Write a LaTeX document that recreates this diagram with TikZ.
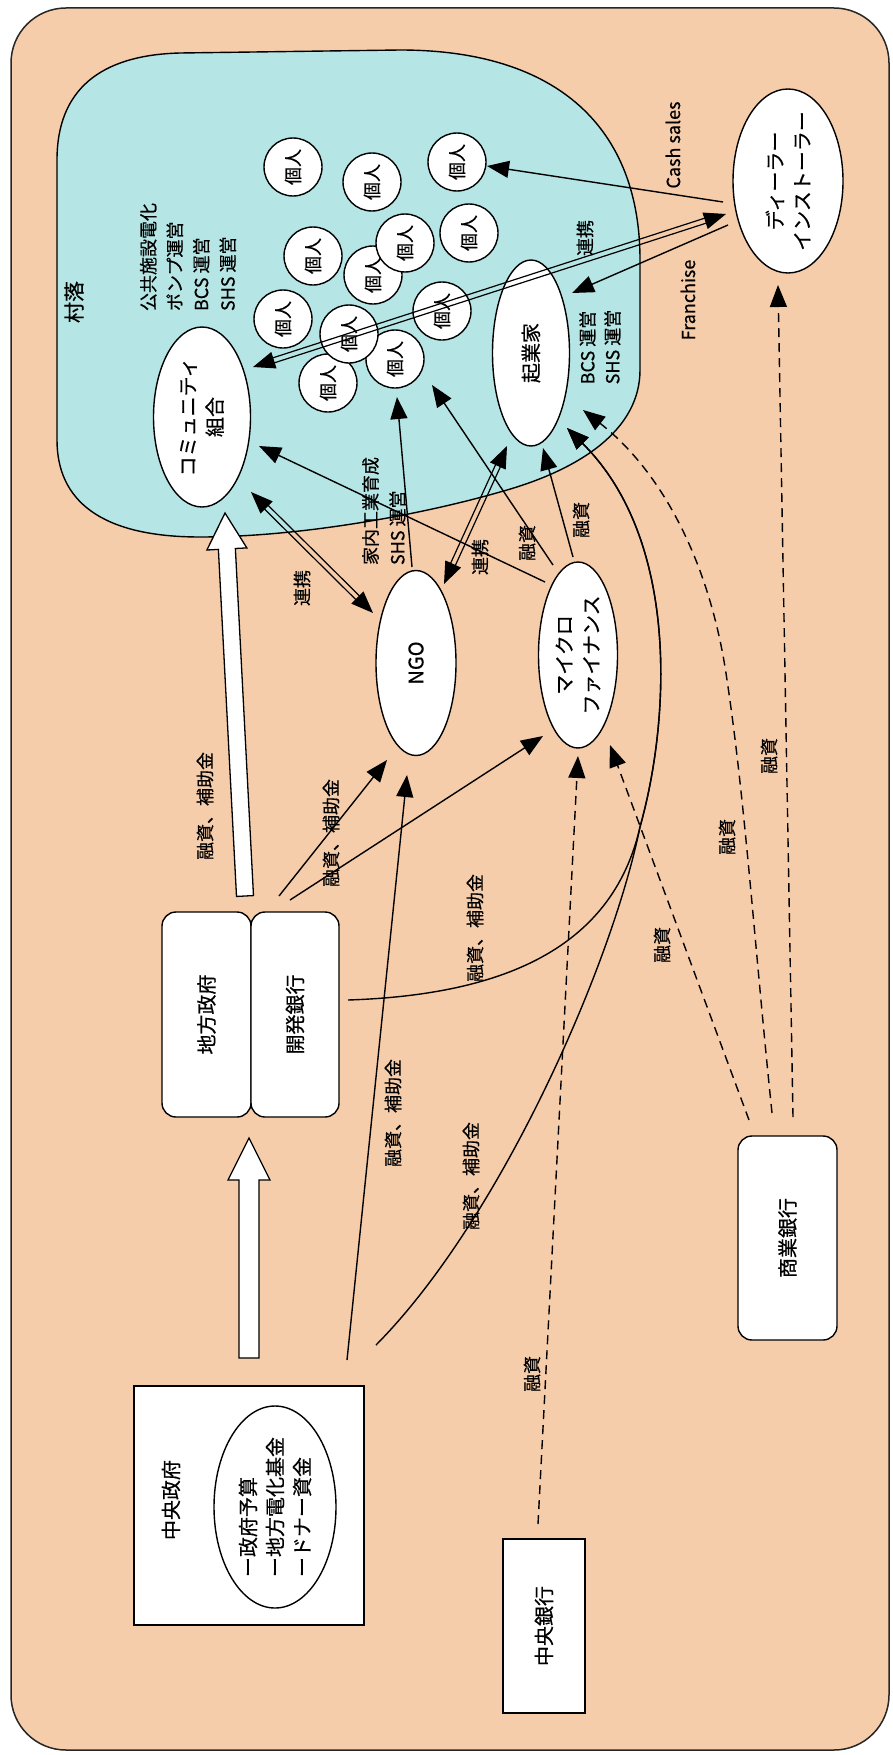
\documentclass[tikz,border=0pt]{standalone}
\usepackage{fontspec}
\setmainfont{Noto Sans CJK JP}[FakeBold=0.5]
\usetikzlibrary{shapes.geometric,arrows.meta,calc}
\definecolor{peach}{RGB}{246,205,170}
\definecolor{village}{RGB}{181,229,228}
\newcommand\linkpair[2]{%
  \draw[line width=1pt, line cap=butt, dash pattern=on 0pt off 3000pt,
        {Triangle[length=22pt,width=17pt]}-{Triangle[length=22pt,width=17pt]}] (#1) -- (#2);
  \draw[line width=1.2pt, shorten <=16pt, shorten >=16pt] ($(#1)!2.6pt!90:(#2)$) -- ($(#2)!2.6pt!-90:(#1)$);
  \draw[line width=1.2pt, shorten <=16pt, shorten >=16pt] ($(#1)!2.6pt!-90:(#2)$) -- ($(#2)!2.6pt!90:(#1)$);
}
\newcommand\hollowarrow[5]{%
  \coordinate (hh) at ($(#2)!#5!(#1)$);
  \draw[line width=1.3pt, fill=white, line join=miter]
    ($(#1)!#3!90:(#2)$) -- ($(hh)!#3!90:(#2)$) -- ($(hh)!#4!90:(#2)$) -- (#2)
    -- ($(hh)!#4!-90:(#2)$) -- ($(hh)!#3!-90:(#2)$) -- ($(#1)!#3!-90:(#2)$) -- cycle;
}
\begin{document}
\begin{tikzpicture}[x=1pt,y=-1pt,
  every node/.style={inner sep=0pt, outer sep=0pt},
  shapeline/.style={draw=black, line width=1.4pt, fill=white},
  el/.style={ellipse, shapeline, rotate=90, align=center, inner sep=-6pt, font=\fontsize{20}{27}\selectfont},
  rbox/.style={rectangle, rounded corners=14pt, shapeline, rotate=90, font=\fontsize{20}{27}\selectfont},
  sbox/.style={rectangle, shapeline, rotate=90, font=\fontsize{20}{27}\selectfont},
  person/.style={circle, shapeline, minimum size=58pt, rotate=90, font=\fontsize{18}{20}\selectfont},
  lbl/.style={rotate=90, align=left, font=\fontsize{18}{25}\selectfont},
  conn/.style={line width=1.4pt, -{Triangle[length=22pt,width=17pt]}},
  dconn/.style={conn, dash pattern=on 9pt off 6pt},
]
\useasboundingbox (0,0) rectangle (893,1755);
\draw[fill=peach, draw=black!85, line width=1.5pt, rounded corners=55pt] (11,8) rectangle (889,1750);
\draw[fill=village, draw=black, line width=1.4pt] (57,440) -- (57,160) .. controls (57,90) and (100,55) .. (180,53) -- (400,50) .. controls (560,50) and (640,130) .. (640,260) -- (640,370) .. controls (640,430) and (580,470) .. (500,492) .. controls (420,515) and (300,537) .. (200,537) .. controls (100,537) and (57,500) .. (57,440) -- cycle;

% individuals
\foreach \n/\x/\y in {1/293/167, 2/372/182, 3/457/162, 4/313/256, 6/469/233, 7/373/275, 5/405/243, 8/283/319, 9/442/311, 12/328/383, 11/395/359, 10/349/334}
  \node[person] (p\n) at (\x,\y) {個人};

% main nodes
\node[el, minimum width=180pt, minimum height=97pt] (comm) at (202,417) {コミュニティ\\組合};
\node[el, minimum width=186pt, minimum height=77pt] (ent) at (531,353) {起業家};
\node[el, minimum width=184pt, minimum height=110pt] (dealer) at (788,181) {ディーラー\\インストーラー};
\node[el, minimum width=185pt, minimum height=80pt] (ngo) at (416,663) {NGO};
\node[el, minimum width=186pt, minimum height=79pt] (mf) at (578,655) {マイクロ\\ファイナンス};
\node[rbox, minimum width=205pt, minimum height=89pt] (lgov) at (206.5,1014.5) {地方政府};
\node[rbox, minimum width=205pt, minimum height=88pt] (dbank) at (295,1014.5) {開発銀行};
\node[sbox, minimum width=239pt, minimum height=230pt] (cgov) at (249,1505.5) {};
\node[lbl, font=\fontsize{20}{27}\selectfont] (cgovt) at (171,1500) {中央政府};
\node[el, align=left, minimum width=202pt, minimum height=122pt] (fund) at (275,1507) {ー政府予算\\ー地方電化基金\\ードナー資金};
\node[sbox, minimum width=174pt, minimum height=82pt] (cbank) at (544,1626) {中央銀行};
\node[rbox, minimum width=204pt, minimum height=99pt] (combank) at (787.5,1238) {商業銀行};

% hollow arrows
\coordinate (wa1) at ([shift={(38.5,-118.5)}]lgov.center);
\coordinate (wa2) at ([shift={(23,96)}]comm.center);
\hollowarrow{wa1}{wa2}{8.5pt}{20pt}{36pt}
\coordinate (wb1) at ([shift={(0,-147.5)}]cgov.center);
\coordinate (wb2) at ([shift={(42.5,123.5)}]lgov.center);
\hollowarrow{wb1}{wb2}{10pt}{21pt}{42pt}

% double links
\coordinate (ka1) at ([shift={(49,75)}]comm.center);
\coordinate (ka2) at ([shift={(-43,-50)}]ngo.center);
\linkpair{ka1}{ka2}
\coordinate (kb1) at ([shift={(28,-79)}]ngo.center);
\coordinate (kb2) at ([shift={(-24,93)}]ent.center);
\linkpair{kb1}{kb2}
\coordinate (kc1) at ([shift={(51,-50)}]comm.center);
\coordinate (kc2) at ([shift={(-62,33)}]dealer.center);
\linkpair{kc1}{kc2}

% straight connectors
\draw[conn] ([shift={(-65,21)}]dealer.center) -- ([shift={(30,4)}]p3.center);
\draw[conn] ([shift={(-60,44)}]dealer.center) -- ([shift={(41,-60)}]ent.center);
\draw[conn] ([shift={(-4,-96)}]ngo.center) -- ([shift={(2,38)}]p11.center);
\draw[conn] ([shift={(-25,-90)}]mf.center) -- ([shift={(37,26)}]p11.center);
\draw[conn] ([shift={(-5,-98)}]mf.center) -- ([shift={(12,95)}]ent.center);
\draw[conn] ([shift={(-33,-73)}]mf.center) -- ([shift={(57,29)}]comm.center);
\draw[conn] ([shift={(-16,-118.5)}]dbank.center) -- ([shift={(-29,97)}]ngo.center);
\draw[conn] ([shift={(-5,-114.5)}]dbank.center) -- ([shift={(-35,81)}]mf.center);
\draw[conn] ([shift={(98,-145.5)}]cgov.center) -- ([shift={(-9,112)}]ngo.center);

% curved connectors
\draw[conn] ([shift={(53,-14.5)}]dbank.center) .. controls (500,995) and (612,950) .. (640,827) .. controls (670,720) and (680,540) .. ([shift={(36,75)}]ent.center);
\draw[conn] ([shift={(127,-160.5)}]cgov.center) .. controls (500,1220) and (612,965) .. (640,827) .. controls (670,720) and (680,540) .. ([shift={(36,75)}]ent.center);

% dashed connectors
\draw[dconn] ([shift={(-6,-102)}]cbank.center) -- ([shift={(0,101)}]mf.center);
\draw[dconn] ([shift={(-38.5,-118)}]combank.center) -- ([shift={(32,90)}]mf.center);
\draw[dconn] ([shift={(-15.5,-125)}]combank.center) .. controls (755,950) and (745,800) .. (727,680) .. controls (710,560) and (660,470) .. ([shift={(52,57)}]ent.center);
\draw[dconn] ([shift={(5.5,-121)}]combank.center) -- ([shift={(-10,104)}]dealer.center);

% labels
\node[lbl, font=\fontsize{21}{25}\selectfont] (village) at (74,302) {村落};
\node[lbl, font=\fontsize{18}{26.5}\selectfont] (commtask) at (188,257) {公共施設電化\\ポンプ運営\\BCS 運営\\SHS 運営};
\node[lbl] (enttask) at (600,347) {BCS 運営\\SHS 運営};
\node[lbl, font=\fontsize{18}{27}\selectfont] (ngotask) at (384,511) {家内工業育成\\SHS 運営};
\node[lbl] (l1) at (205,806) {融資、補助金};
\node[lbl] (l2) at (331,833) {融資、補助金};
\node[lbl] (l3) at (475,928) {融資、補助金};
\node[lbl] (l4) at (393,1113) {融資、補助金};
\node[lbl] (l5) at (471,1176) {融資、補助金};
\node[lbl] (l6) at (662,945) {融資};
\node[lbl] (l7) at (727,837) {融資};
\node[lbl] (l8) at (769,756) {融資};
\node[lbl] (l9) at (532,1374) {融資};
\node[lbl] (l10) at (527,543) {融資};
\node[lbl] (l11) at (581,520) {融資};
\node[lbl] (l12) at (302,588) {連携};
\node[lbl] (l13) at (480,557) {連携};
\node[lbl] (l14) at (585,238) {連携};
\node[lbl] (l15) at (673,145) {Cash sales};
\node[lbl] (l16) at (688,300) {Franchise};
\end{tikzpicture}
\end{document}
